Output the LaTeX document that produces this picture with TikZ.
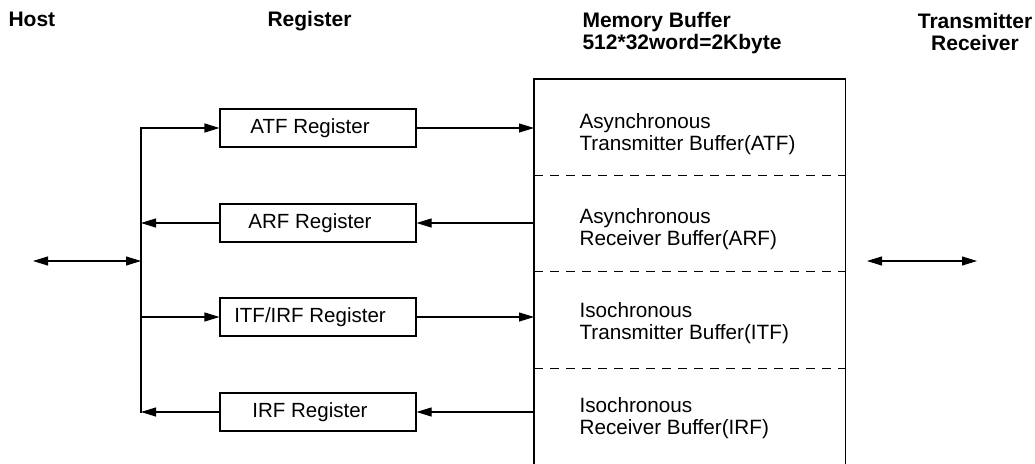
\documentclass[tikz,border=0pt]{standalone}
\usepackage{fontspec}
\setmainfont{Liberation Sans}
\usetikzlibrary{arrows.meta}
\newcommand\regshift{\hspace*{-16pt}}
\begin{document}
\begin{tikzpicture}[x=1pt,y=-1pt,
  line width=1.1pt,
  tip/.style={-{Triangle[length=15pt,width=9pt]}},
  both/.style={{Triangle[length=15pt,width=9pt]}-{Triangle[length=15pt,width=9pt]}},
  reg/.style={draw, minimum width=196pt, minimum height=38pt, inner sep=0pt, font=\fontsize{20.5}{22}\selectfont},
  head/.style={font=\fontsize{21}{22}\selectfont\bfseries, inner sep=0pt, align=left, anchor=base west},
  buf/.style={font=\fontsize{20.7}{22}\selectfont, inner sep=0pt, align=left, anchor=base west},
  div/.style={dash pattern=on 9pt off 7pt, line width=1pt}]
\useasboundingbox (0,0) rectangle (1035,463);
\fill[white] (0,0) rectangle (1035,463);

% headers (multi-line nodes: base anchor = last line baseline)
\node[head] (host) at (8,26) {Host};
\node[head] (regh) at (267,26) {Register};
\node[head] (memh) at (582,49) {Memory Buffer\\512*32word=2Kbyte};
\node[head, align=center, anchor=base] (trh) at (975,50) {Transmitter\\Receiver};

% memory buffer
\node[minimum width=310pt, minimum height=384pt, anchor=north west, inner sep=0pt] (mem) at (534,79) {};
\draw (mem.south west) -- (mem.north west) -- (mem.north east) -- (mem.south east);
\coordinate (d1) at (0,175);
\coordinate (d2) at (0,271);
\coordinate (d3) at (0,368);
\draw[div] (mem.west |- d1) -- (mem.east |- d1);
\draw[div] (mem.west |- d2) -- (mem.east |- d2);
\draw[div] (mem.west |- d3) -- (mem.east |- d3);

\node[buf] (b1) at (579,150) {Asynchronous\\Transmitter Buffer(ATF)};
\node[buf] (b2) at (579,245) {Asynchronous\\Receiver Buffer(ARF)};
\node[buf] (b3) at (579,339) {Isochronous\\Transmitter Buffer(ITF)};
\node[buf] (b4) at (579,434) {Isochronous\\Receiver Buffer(IRF)};

% registers
\node[reg] (atf) at (318,128) {\regshift ATF Register};
\node[reg] (arf) at (318,223) {\regshift ARF Register};
\node[reg] (itf) at (318,317) {\regshift ITF/IRF Register};
\node[reg] (irf) at (318,412) {\regshift IRF Register};

% host bus
\coordinate (bt) at (141,128);
\coordinate (bb) at (141,412);
\coordinate (bm) at (141,261);
\coordinate (hl) at (33,261);
\draw[line cap=rect] (bt) -- (bb);
\draw[both] (hl) -- (bm);

\draw[tip] (bt) -- (atf.west);
\draw[tip] (arf.west) -- (arf.west -| bt);
\draw[tip] (itf.west -| bt) -- (itf.west);
\draw[tip] (irf.west) -- (bb);

\draw[tip] (atf.east) -- (atf.east -| mem.west);
\draw[tip] (arf.east -| mem.west) -- (arf.east);
\draw[tip] (itf.east) -- (itf.east -| mem.west);
\draw[tip] (irf.east -| mem.west) -- (irf.east);

% transmitter/receiver link
\coordinate (tl) at (867,261);
\coordinate (tr) at (977,261);
\draw[both] (tl) -- (tr);
\end{tikzpicture}
\end{document}
